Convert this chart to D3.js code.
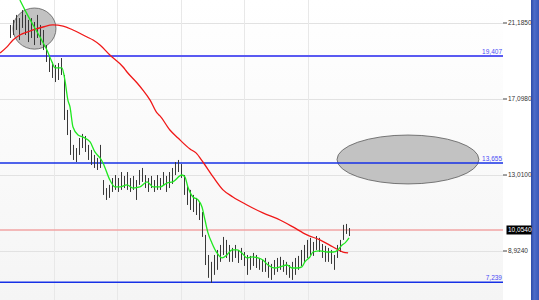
<!doctype html>
<html lang="en">
  <head>
    <meta charset="utf-8">
    <script src="https://d3js.org/d3.v7.min.js"></script>
    <title>Price chart</title>
    <style>
      body { margin: 0; background: #fff; }
      svg { display: block; }
      .tick-label { font-family: "Liberation Sans", Arial, sans-serif; font-size: 6.5px; fill: #333; }
      .level-label { font-family: "Liberation Sans", Arial, sans-serif; font-size: 6.5px; fill: #4a4af5; }
    </style>
  </head>
  <body>
    <svg width="539" height="300"></svg>
<script>
    // bar highs / lows, one per session
    var highs = [21.08, 21.35, 21.62, 21.45, 21.88, 21.62, 21.35, 21.45, 21.24, 21.62,
                 21.08, 20.81, 20.00, 19.46, 19.09, 18.93, 19.03, 19.30, 18.39, 16.51,
                 15.43, 14.63, 14.46, 15.00, 15.22, 15.11, 14.63, 14.36, 14.09, 13.93,
                 14.63, 12.74, 12.31, 12.48, 12.85, 13.01, 12.85, 13.17, 12.96, 13.17,
                 12.85, 12.96, 12.74, 13.28, 13.39, 13.01, 12.85, 12.96, 12.74, 13.01,
                 12.85, 13.17, 12.96, 13.17, 13.39, 13.71, 13.82, 13.60, 13.01, 12.48,
                 12.21, 11.94, 11.78, 11.56, 11.02, 9.79, 8.71, 8.34, 8.71, 8.98,
                 9.25, 9.68, 9.52, 9.25, 9.09, 9.25, 8.98, 9.09, 8.87, 8.71,
                 8.66, 8.82, 8.71, 8.55, 8.44, 8.55, 8.34, 8.23, 8.44, 8.55,
                 8.61, 8.44, 8.34, 8.17, 8.34, 8.55, 8.66, 8.98, 9.25, 9.52,
                 9.63, 9.41, 9.73, 9.63, 9.30, 9.20, 9.09, 8.98, 8.71, 9.25,
                 9.52, 10.33, 10.38, 10.16];
    var lows  = [20.38, 20.54, 20.81, 20.27, 20.92, 20.54, 20.16, 20.38, 20.00, 20.38,
                 20.00, 19.73, 19.09, 18.55, 18.23, 18.01, 18.12, 18.39, 15.97, 15.16,
                 14.09, 13.82, 13.71, 14.09, 14.46, 14.25, 13.82, 13.55, 13.39, 13.28,
                 13.39, 11.94, 11.67, 11.78, 12.10, 12.21, 12.10, 12.21, 12.31, 12.21,
                 12.10, 12.21, 11.67, 12.48, 12.64, 12.31, 12.10, 12.31, 12.10, 12.21,
                 12.21, 12.42, 12.10, 12.31, 12.53, 13.01, 13.17, 12.85, 11.94, 11.40,
                 11.13, 11.02, 10.86, 10.59, 9.68, 8.17, 7.48, 7.21, 7.64, 7.91,
                 8.34, 8.71, 8.55, 8.34, 8.34, 8.55, 8.28, 8.44, 8.12, 7.64,
                 7.91, 8.12, 8.01, 7.91, 7.80, 7.80, 7.48, 7.37, 7.64, 7.80,
                 7.91, 7.80, 7.64, 7.48, 7.37, 7.64, 7.91, 8.12, 8.34, 8.55,
                 8.71, 8.66, 8.98, 8.87, 8.55, 8.34, 8.34, 8.23, 7.91, 8.55,
                 8.87, 9.52, 9.84, 9.73];

    // short moving average (green): [bar index, value]
    var fastMA = [[3.3, 22.42], [5, 21.88], [7.7, 21.08], [10, 20.43], [12.3, 19.73],
                  [14, 19.09], [15, 18.77], [17.3, 18.77], [18.3, 18.12], [19.3, 17.04],
                  [20, 16.67], [21, 15.59], [22.7, 15.16], [24.3, 15.05], [26.7, 14.79],
                  [28.3, 14.25], [30, 13.93], [31, 13.66], [33.3, 12.74], [35, 12.37],
                  [36.7, 12.37], [39, 12.48], [41, 12.31], [43.3, 12.37], [45.7, 12.64],
                  [47.7, 12.37], [50, 12.37], [52.3, 12.58], [54.3, 12.64], [57.3, 13.01],
                  [58.3, 12.91], [59.3, 12.37], [61, 11.83], [62.7, 11.67], [64, 11.29],
                  [65, 10.59], [66, 9.90], [67.3, 9.36], [69, 8.82], [70.7, 8.55],
                  [72.3, 8.71], [74, 8.98], [75.7, 8.98], [77.3, 8.82], [79, 8.55],
                  [80.7, 8.61], [82.7, 8.55], [84.3, 8.44], [86, 8.17], [88.3, 8.01],
                  [90, 8.07], [92.3, 8.17], [94, 8.01], [95.7, 8.01], [97.3, 8.07],
                  [98.3, 8.34], [100, 8.61], [101, 8.87], [103.3, 8.93], [105.7, 8.87],
                  [107.7, 8.87], [109.3, 8.98], [110.7, 9.25], [111.7, 9.36], [113, 9.63]];

    // long moving average (red): [bar index, value]
    var slowMA = [[-3.3, 19.57], [-1, 19.90], [1, 20.27], [3.3, 20.54], [7.7, 20.81],
                  [11, 20.97], [14.3, 21.08], [17.7, 21.02], [21, 20.81], [25.7, 20.43],
                  [27.7, 20.27], [30, 20.00], [33.3, 19.46], [37.7, 18.82], [39, 18.55],
                  [42.3, 17.97], [44.3, 17.58], [46.7, 17.04], [49, 16.35], [50, 16.19],
                  [53.3, 15.43], [56, 15.00], [60, 14.41], [62, 14.20], [64.3, 13.71],
                  [67.7, 12.91], [71, 12.21], [74.3, 11.83], [79, 11.40], [84.3, 10.97],
                  [90, 10.59], [94.3, 10.22], [99, 9.79], [103.3, 9.52], [107.7, 9.14],
                  [111, 8.87], [112.7, 8.82]];

    var tickValues = [21.185, 17.098, 13.010, 8.924];
    var tickLabels = ["21,1850", "17,0980", "13,0100", "8,9240"];
    var levels = [19.407, 13.655, 7.239];
    var levelLabels = ["19,407", "13,655", "7,239"];
    var lastPrice = 10.054;
    var lastLabel = "10,0540";
    var dateGrid = [14.7, 35.7, 57, 78, 99.3];

    // highlighted zones: [idx from, idx to, value top, value bottom]
    var zones = [[1, 15.33, 21.99, 19.78], [109, 156.3, 15.16, 12.53]];

    var W = 539, H = 300, plotW = 503;
    var svg = d3.select("svg");

    var x = d3.scaleLinear().domain([-3.33, 164.33]).range([0, plotW]);
    var y = d3.scaleLinear().domain([6.289, 22.422]).range([H, 0]);

    var defs = svg.append("defs");
    var bg = defs.append("linearGradient").attr("id", "bg")
        .attr("x1", 0).attr("y1", 0).attr("x2", 0).attr("y2", 1);
    bg.append("stop").attr("offset", "0%").attr("stop-color", "#ffffff");
    bg.append("stop").attr("offset", "100%").attr("stop-color", "#f5f5f5");
    var side = defs.append("linearGradient").attr("id", "side")
        .attr("x1", 0).attr("y1", 0).attr("x2", 1).attr("y2", 0);
    side.append("stop").attr("offset", "0%").attr("stop-color", "#2c4aa6");
    side.append("stop").attr("offset", "40%").attr("stop-color", "#4d6cc9");
    side.append("stop").attr("offset", "100%").attr("stop-color", "#3a58b8");
    defs.append("clipPath").attr("id", "clip")
        .append("rect").attr("width", plotW).attr("height", H);

    svg.append("rect").attr("width", W).attr("height", H).attr("fill", "#fff");
    svg.append("rect").attr("width", plotW).attr("height", H).attr("fill", "url(#bg)");
    svg.append("rect").attr("x", 531).attr("width", 8).attr("height", H).attr("fill", "url(#side)");

    var plot = svg.append("g").attr("clip-path", "url(#clip)");

    // grid
    plot.selectAll(".hgrid").data(tickValues).enter().append("line")
        .attr("x1", 0).attr("x2", plotW)
        .attr("y1", function(d) { return Math.round(y(d)) + 0.5; })
        .attr("y2", function(d) { return Math.round(y(d)) + 0.5; })
        .attr("stroke", "#e2e2e2");
    plot.selectAll(".vgrid").data(dateGrid).enter().append("line")
        .attr("y1", 0).attr("y2", H)
        .attr("x1", function(d) { return Math.round(x(d)) + 0.5; })
        .attr("x2", function(d) { return Math.round(x(d)) + 0.5; })
        .attr("stroke", "#e8e8e8").attr("stroke-width", 1);

    // zones
    plot.selectAll(".zone").data(zones).enter().append("ellipse")
        .attr("cx", function(d) { return (x(d[0]) + x(d[1])) / 2; })
        .attr("cy", function(d) { return (y(d[2]) + y(d[3])) / 2; })
        .attr("rx", function(d) { return (x(d[1]) - x(d[0])) / 2; })
        .attr("ry", function(d) { return (y(d[3]) - y(d[2])) / 2; })
        .attr("fill", "#c2c2c2").attr("stroke", "#5a5a5a").attr("stroke-width", 0.8);

    // last price line
    plot.append("line")
        .attr("x1", 0).attr("x2", plotW)
        .attr("y1", y(lastPrice)).attr("y2", y(lastPrice))
        .attr("stroke", "#f2a4a4").attr("stroke-width", 1.5);

    // horizontal levels
    plot.selectAll(".level").data(levels).enter().append("line")
        .attr("x1", 0).attr("x2", plotW)
        .attr("y1", function(d) { return y(d); })
        .attr("y2", function(d) { return y(d); })
        .attr("stroke", function(d, i) { return i == 0 ? "#5a5af2" : "#1630e6"; })
        .attr("stroke-width", function(d, i) { return i == 0 ? 2 : 1.5; });
    svg.selectAll(".level-label").data(levels).enter().append("text")
        .attr("class", "level-label")
        .attr("x", plotW - 1)
        .attr("y", function(d) { return y(d) - 2; })
        .attr("text-anchor", "end")
        .text(function(d, i) { return levelLabels[i]; });

    // bars, snapped to whole pixels so they stay crisp
    plot.selectAll(".bar").data(highs).enter().append("line")
        .attr("x1", function(d, i) { return Math.round(x(i)) + 0.5; })
        .attr("x2", function(d, i) { return Math.round(x(i)) + 0.5; })
        .attr("y1", function(d) { return y(d); })
        .attr("y2", function(d, i) { return y(lows[i]); })
        .attr("stroke", "#383838").attr("stroke-width", 1);

    var line = d3.line()
        .x(function(d) { return x(d[0]); })
        .y(function(d) { return y(d[1]); })
        .curve(d3.curveMonotoneX);
    plot.append("path").datum(slowMA)
        .attr("fill", "none").attr("stroke", "#f01818").attr("stroke-width", 1.3)
        .attr("d", line);
    plot.append("path").datum(fastMA)
        .attr("fill", "none").attr("stroke", "#1ee81e").attr("stroke-width", 1.3)
        .attr("d", line);

    // right axis
    var axis = svg.append("g");
    axis.selectAll(".tk").data(tickValues).enter().append("line")
        .attr("x1", plotW).attr("x2", plotW + 4)
        .attr("y1", function(d) { return y(d); })
        .attr("y2", function(d) { return y(d); })
        .attr("stroke", "#444");
    axis.selectAll(".tick-label").data(tickValues).enter().append("text")
        .attr("class", "tick-label")
        .attr("x", plotW + 5)
        .attr("y", function(d) { return y(d) + 2.3; })
        .text(function(d, i) { return tickLabels[i]; });

    axis.append("rect")
        .attr("x", plotW + 3.5).attr("y", y(lastPrice) - 4.5)
        .attr("width", 25).attr("height", 9).attr("fill", "#000");
    axis.append("text")
        .attr("class", "tick-label")
        .attr("x", plotW + 5)
        .attr("y", y(lastPrice) + 2.3)
        .style("fill", "#fff")
        .text(lastLabel);
</script>
  </body>
</html>
